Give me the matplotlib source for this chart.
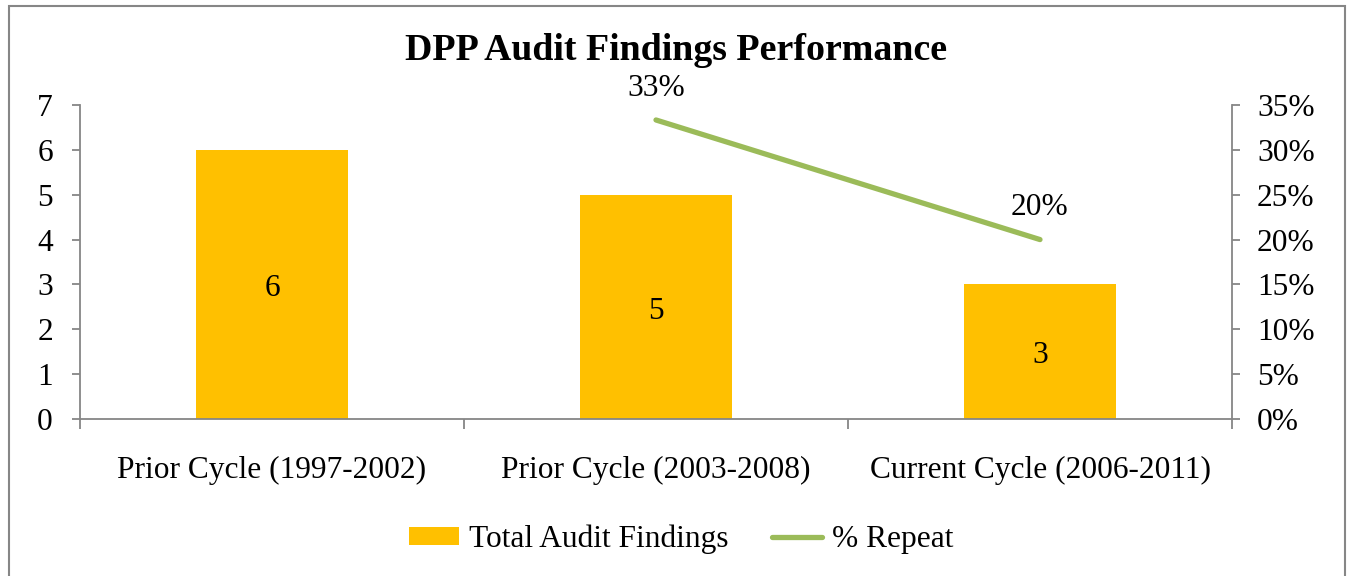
import numpy as np
import matplotlib
matplotlib.use("Agg")
import matplotlib.pyplot as plt
from matplotlib.patches import Rectangle
from matplotlib.ticker import FixedLocator, FuncFormatter

categories = ["Prior Cycle (1997-2002)", "Prior Cycle (2003-2008)", "Current Cycle (2006-2011)"]
total_findings = [6, 5, 3]
repeat_pct = [np.nan, 33.33, 20.0]
repeat_labels = ["", "33%", "20%"]
title = "DPP Audit Findings Performance"

plt.rcParams['font.family'] = ['Liberation Serif', 'DejaVu Serif']

BAR = "#FFC000"
LINE = "#9BBB59"
GRAY = "#868686"
FS = 22.6

fig = plt.figure(figsize=(13.53, 5.76), dpi=100)
fig.patch.set_facecolor("white")
fig.add_artist(Rectangle((9/1353, -0.05), (1345-9)/1353, 1.05 - 6/576,
                         transform=fig.transFigure, fill=False,
                         edgecolor=GRAY, linewidth=1.5))

ax = fig.add_axes([80/1353, 1-419/576, (1232-80)/1353, (419-105)/576])
x = np.arange(len(categories))
bars = ax.bar(x, total_findings, width=0.396, color=BAR, label="Total Audit Findings", zorder=2)
for xi, v in zip(x, total_findings):
    ax.annotate(str(v), (xi, v / 2.0), xytext=(0, -3), textcoords='offset points',
                ha='center', va='center', fontsize=FS, zorder=4)
ax.set_xlim(-0.5, len(categories) - 0.5)
ax.set_ylim(0, 7)
ax.set_yticks(range(0, 8))
ax.xaxis.set_major_locator(FixedLocator(np.arange(-0.5, len(categories), 1.0)))
ax.xaxis.set_major_formatter(FuncFormatter(lambda v, p: ""))
ax.xaxis.set_minor_locator(FixedLocator(x))
ax.set_xticklabels(categories, minor=True)
ax.tick_params(axis='x', which='major', length=7, width=1.3, color=GRAY, direction='out')
ax.tick_params(axis='x', which='minor', length=0, labelsize=FS, pad=26.5)
ax.tick_params(axis='y', length=6, width=1.3, color=GRAY, labelsize=FS, pad=13.5)
for s in ['top', 'right']:
    ax.spines[s].set_visible(False)
for s in ['left', 'bottom']:
    ax.spines[s].set_color(GRAY)
    ax.spines[s].set_linewidth(1.3)

ax2 = ax.twinx()
ax2.plot(x, np.array(repeat_pct) / 100.0, color=LINE, linewidth=3.8,
         solid_capstyle='round', label="% Repeat", zorder=3)
ax2.set_ylim(0, 0.35)
ax2.set_yticks(np.arange(0, 0.351, 0.05))
ax2.yaxis.set_major_formatter(FuncFormatter(lambda v, p: f"{v*100:.0f}%"))
ax2.tick_params(axis='y', length=6, width=1.3, color=GRAY, labelsize=FS, pad=12)
for s in ['top', 'left', 'bottom']:
    ax2.spines[s].set_visible(False)
ax2.spines['right'].set_color(GRAY)
ax2.spines['right'].set_linewidth(1.3)
for xi, v, lab in zip(x, repeat_pct, repeat_labels):
    if not np.isnan(v):
        ax2.annotate(lab, (xi, v / 100.0), xytext=(0, 23), textcoords='offset points',
                     ha='center', va='center', fontsize=FS)

fig.text(0.5, 1 - 51/576, title, ha='center', va='center', fontsize=27.3, fontweight='bold')

h1, l1 = ax.get_legend_handles_labels()
h2, l2 = ax2.get_legend_handles_labels()
fig.legend(h1 + h2, l1 + l2, loc='center', bbox_to_anchor=(681/1353, 1 - 539/576), ncol=2,
           frameon=False, fontsize=FS, handlelength=1.6, handleheight=0.5,
           handletextpad=0.3, columnspacing=1.4)

fig.savefig("out.png", dpi=100, facecolor="white")
